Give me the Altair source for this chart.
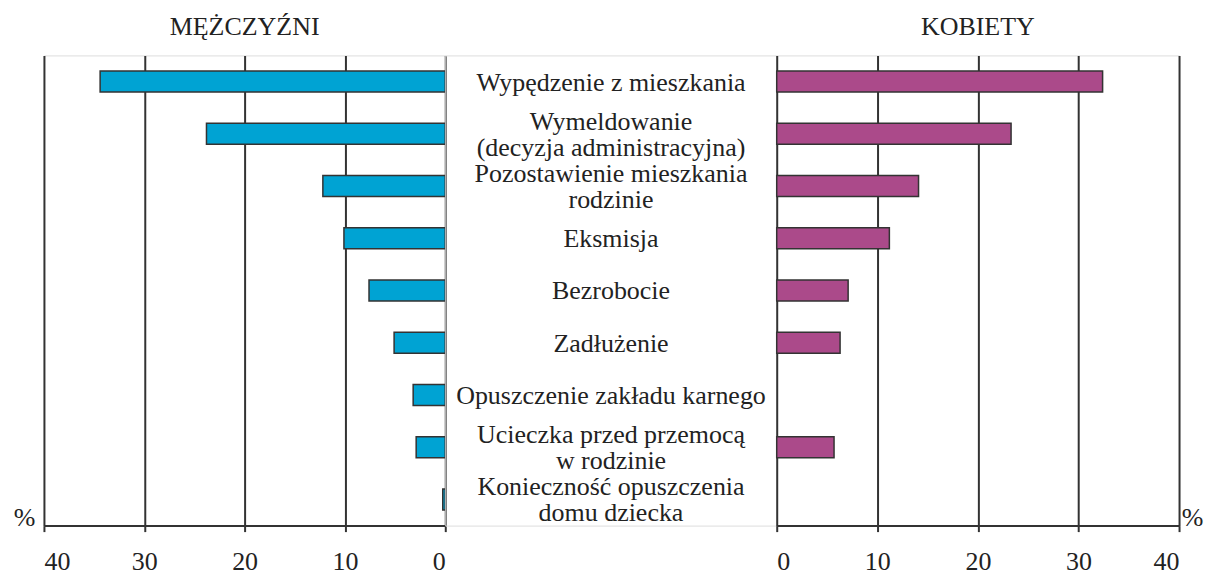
import altair as alt
import pandas as pd

categories = [
    "Wypędzenie z mieszkania",
    "Wymeldowanie\n(decyzja administracyjna)",
    "Pozostawienie mieszkania\nrodzinie",
    "Eksmisja",
    "Bezrobocie",
    "Zadłużenie",
    "Opuszczenie zakładu karnego",
    "Ucieczka przed przemocą\nw rodzinie",
    "Konieczność opuszczenia\ndomu dziecka",
]
men = [34.4, 23.8, 12.2, 10.1, 7.6, 5.1, 3.2, 2.9, 0.25]
women = [32.4, 23.3, 14.1, 11.2, 7.1, 6.3, None, 5.7, None]
ticks = [0, 10, 20, 30, 40]

df = pd.DataFrame({"category": categories, "men": men, "women": women})

FONT = "Liberation Serif"
BLUE = "#00A3D3"
MAGENTA = "#AB4A8A"
DARK = "#222222"
LINE = "#333333"

yenc = alt.Y(
    "category:N",
    scale=alt.Scale(domain=categories, paddingInner=0.6, paddingOuter=0.3),
    axis=None,
)


def xaxis(title_x):
    return alt.Axis(
        values=ticks,
        grid=True,
        gridColor=LINE,
        gridWidth=2,
        gridOpacity=1,
        domain=True,
        domainColor=LINE,
        domainWidth=2,
        ticks=True,
        tickSize=6,
        tickColor=LINE,
        tickWidth=2,
        labelFont=FONT,
        labelFontSize=26,
        labelColor=DARK,
        labelPadding=17,
        title="%",
        titleFont=FONT,
        titleFontSize=26,
        titleFontWeight="normal",
        titleColor=DARK,
        titleX=title_x,
        titleY=0,
        titleAngle=0,
        titleAlign="center",
        titleBaseline="alphabetic",
    )


def title(text):
    return alt.TitleParams(
        text=text,
        font=FONT,
        fontSize=26,
        fontWeight="normal",
        color=DARK,
        anchor="middle",
        baseline="alphabetic",
        offset=-6,
    )


left = (
    alt.Chart(df, title=title("MĘŻCZYŹNI"))
    .mark_bar(color=BLUE, stroke=LINE, strokeWidth=1.5)
    .encode(
        x=alt.X("men:Q", scale=alt.Scale(domain=[0, 40], reverse=True), axis=xaxis(-20)),
        y=yenc,
    )
    .properties(width=402, height=471)
)

text_style = dict(
    font=FONT,
    fontSize=26,
    lineBreak="\n",
    lineHeight=26,
    align="center",
    baseline="middle",
    color=DARK,
)
mid_base = alt.Chart(df).encode(y=yenc, text="category:N", x=alt.value(166))
mid = alt.layer(
    mid_base.transform_filter("indexof(datum.category, '\\n') < 0").mark_text(dy=1, **text_style),
    mid_base.transform_filter("indexof(datum.category, '\\n') >= 0").mark_text(dy=-12, **text_style),
).properties(width=332, height=471)

right = (
    alt.Chart(df, title=title("KOBIETY"))
    .mark_bar(color=MAGENTA, stroke=LINE, strokeWidth=1.5)
    .encode(
        x=alt.X("women:Q", scale=alt.Scale(domain=[0, 40]), axis=xaxis(416)),
        y=yenc,
    )
    .properties(width=403, height=471)
)

chart = (
    alt.hconcat(left, mid, right, spacing=0, bounds="flush")
    .configure_view(stroke=None)
    .configure(font=FONT)
    .properties(padding={"left": 4, "top": 5, "right": 0, "bottom": 0})
)

chart.save("out.html", embed_options={"renderer": "svg", "actions": False})
